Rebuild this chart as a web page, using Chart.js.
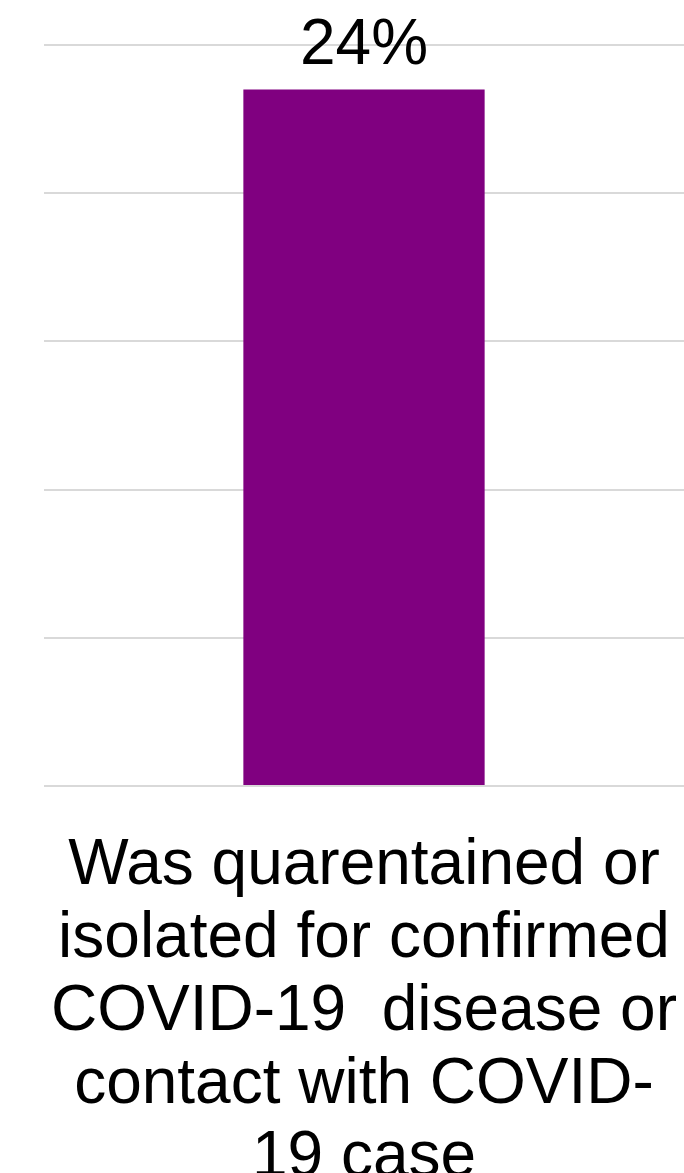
<!DOCTYPE html>
<html>
<head>
<meta charset="utf-8">
<script src="https://cdn.jsdelivr.net/npm/chart.js@4.4.1/dist/chart.umd.min.js"></script>
<style>
  html, body { margin: 0; padding: 0; background: #fff; overflow: hidden; }
  #wrap { width: 684px; height: 1173px; position: relative; }
</style>
</head>
<body>
<div id="wrap"><canvas id="myChart"></canvas></div>
<script>
  // Données du graphique
  const categories = [
    ["Was quarentained or", "isolated for confirmed", "COVID-19  disease or", "contact with COVID-", "19 case"]
  ];
  const values = [23.5];
  const yTicks = [0, 5, 10, 15, 20, 25];

  // Étiquette de valeur au-dessus de la barre
  const valueLabels = {
    id: "valueLabels",
    afterDatasetsDraw(chart) {
      const ctx = chart.ctx;
      const meta = chart.getDatasetMeta(0);
      ctx.save();
      ctx.font = "64px 'Liberation Sans', Arial, sans-serif";
      ctx.fillStyle = "#000";
      ctx.textAlign = "center";
      ctx.textBaseline = "alphabetic";
      meta.data.forEach((bar, i) => {
        ctx.fillText(Math.round(values[i]) + "%", bar.x, bar.y - 25);
      });
      ctx.restore();
    },
  };

  const ctx = document.getElementById("myChart").getContext("2d");
  const myChart = new Chart(ctx, {
    type: "bar",
    data: {
      labels: categories,
      datasets: [
        {
          data: values,
          backgroundColor: "#800080",
          borderWidth: 0,
          barPercentage: 0.377,
          categoryPercentage: 1,
        },
      ],
    },
    options: {
      responsive: true,
      maintainAspectRatio: false,
      animation: false,
      layout: { autoPadding: false, padding: { top: 45, left: 44, right: 0, bottom: 0 } },
      plugins: {
        legend: { display: false },
        tooltip: { enabled: false },
      },
      scales: {
        x: {
          grid: { display: false },
          border: { display: false },
          afterFit: (axis) => {
            axis.height = 387; // hauteur fixe de la zone des libellés
            axis.paddingLeft = 0;
            axis.paddingRight = 0;
          },
          ticks: {
            color: "#000",
            padding: 36,
            maxRotation: 0,
            autoSkip: false,
            font: { family: "'Liberation Sans', Arial, sans-serif", size: 64, lineHeight: 1.14 },
          },
        },
        y: {
          min: yTicks[0],
          max: yTicks[yTicks.length - 1],
          afterBuildTicks: (axis) => {
            axis.ticks = yTicks.map((v) => ({ value: v }));
          },
          afterFit: (axis) => {
            axis.width = 0;
            axis.paddingTop = 0;
            axis.paddingBottom = 0;
          },
          border: { display: false },
          grid: { color: "#d9d9d9", lineWidth: 2, drawTicks: false },
          ticks: { display: false },
        },
      },
    },
    plugins: [valueLabels],
  });
</script>
</body>
</html>
